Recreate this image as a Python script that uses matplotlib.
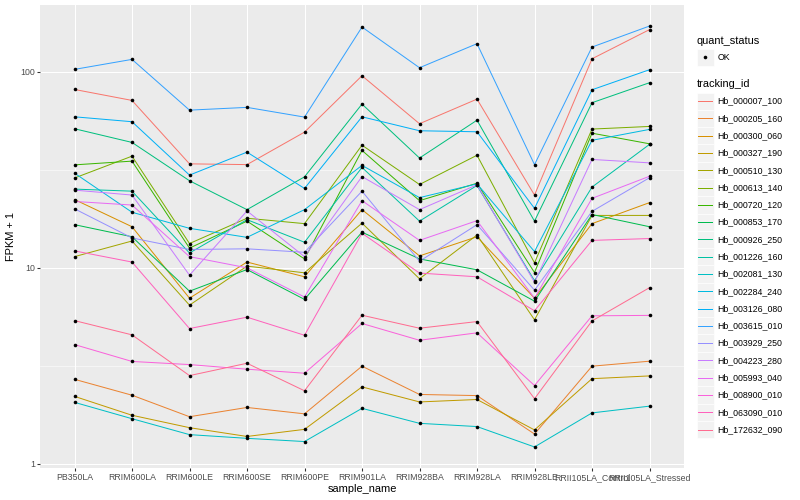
import numpy as np
import matplotlib
matplotlib.use('Agg')
import matplotlib.pyplot as plt
from matplotlib.patches import Rectangle
from matplotlib.ticker import FixedLocator, NullFormatter

plt.rcParams['font.family'] = ['Liberation Sans', 'DejaVu Sans']

samples = ['PB350LA', 'RRIM600LA', 'RRIM600LE', 'RRIM600SE', 'RRIM600PE', 'RRIM901LA',
           'RRIM928BA', 'RRIM928LA', 'RRIM928LE', 'RRII105LA_Control', 'RRII105LA_Stressed']

tracking_ids = ['Hb_000007_100', 'Hb_000205_160', 'Hb_000300_060', 'Hb_000327_190',
                'Hb_000510_130', 'Hb_000613_140', 'Hb_000720_120', 'Hb_000853_170',
                'Hb_000926_250', 'Hb_001226_160', 'Hb_002081_130', 'Hb_002284_240',
                'Hb_003126_080', 'Hb_003615_010', 'Hb_003929_250', 'Hb_004223_280',
                'Hb_005993_040', 'Hb_008900_010', 'Hb_063090_010', 'Hb_172632_090']

# FPKM + 1 per sample
hb_000007_100 = [81.2, 71.4, 33.9, 33.6, 49.2, 95.4, 54.3, 72.5, 23.5, 116.4, 164]
hb_000205_160 = [2.70, 2.24, 1.74, 1.94, 1.80, 3.15, 2.26, 2.23, 1.42, 3.15, 3.34]
hb_000300_060 = [22.3, 16.2, 7.0, 10.7, 9.0, 19.8, 11.5, 14.4, 7.0, 16.8, 21.5]
hb_000327_190 = [2.21, 1.77, 1.53, 1.38, 1.50, 2.47, 2.07, 2.13, 1.49, 2.72, 2.81]
hb_000510_130 = [11.4, 13.7, 6.45, 10.2, 9.43, 16.9, 8.79, 14.7, 5.43, 18.5, 18.5]
hb_000613_140 = [28.7, 37.1, 13.3, 17.9, 16.8, 42.2, 26.6, 37.5, 10.6, 51.0, 52.6]
hb_000720_120 = [33.5, 35.0, 12.6, 17.3, 11.1, 39.7, 22.0, 27.0, 9.46, 48.6, 42.9]
hb_000853_170 = [16.6, 14.4, 7.6, 9.8, 6.9, 15.2, 11.1, 9.77, 6.76, 18.7, 16.2]
hb_000926_250 = [51.2, 43.6, 27.8, 19.8, 29.1, 68.4, 36.3, 56.6, 17.3, 69.5, 87.9]
hb_001226_160 = [25.2, 24.6, 11.9, 17.6, 13.5, 32.5, 17.3, 26.3, 8.6, 25.8, 42.6]
hb_002081_130 = [2.06, 1.70, 1.41, 1.35, 1.30, 1.92, 1.61, 1.55, 1.22, 1.82, 1.97]
hb_002284_240 = [30.4, 19.2, 15.9, 14.3, 19.8, 33.3, 22.8, 26.8, 12.1, 44.7, 50.8]
hb_003126_080 = [58.9, 55.6, 29.7, 38.9, 25.4, 58.9, 50.0, 49.4, 20.1, 80.9, 102.4]
hb_003615_010 = [102.8, 115.6, 63.7, 65.8, 58.7, 169, 104.8, 139, 33.6, 133.6, 171]
hb_003929_250 = [20.0, 14.2, 12.4, 12.5, 12.0, 24.6, 10.8, 16.6, 7.69, 19.4, 28.8]
hb_004223_280 = [24.9, 23.5, 9.17, 19.5, 11.4, 29.2, 19.8, 26.5, 8.45, 35.7, 34.3]
hb_005993_040 = [21.8, 20.9, 11.4, 10.0, 7.1, 22.0, 13.8, 17.4, 7.0, 22.6, 29.3]
hb_008900_010 = [4.06, 3.33, 3.21, 3.04, 2.90, 5.2, 4.27, 4.66, 2.51, 5.69, 5.72]
hb_063090_010 = [12.2, 10.7, 4.90, 5.6, 4.53, 15.0, 9.4, 9.0, 6.04, 13.8, 14.1]
hb_172632_090 = [5.38, 4.55, 2.82, 3.26, 2.36, 5.73, 4.92, 5.32, 2.15, 5.36, 7.92]

series = [hb_000007_100, hb_000205_160, hb_000300_060, hb_000327_190, hb_000510_130,
          hb_000613_140, hb_000720_120, hb_000853_170, hb_000926_250, hb_001226_160,
          hb_002081_130, hb_002284_240, hb_003126_080, hb_003615_010, hb_003929_250,
          hb_004223_280, hb_005993_040, hb_008900_010, hb_063090_010, hb_172632_090]

# ggplot2 default hue palette for 20 levels
colors = ['#F8766D', '#EA8331', '#D89000', '#C09B00', '#A3A500', '#7CAE00', '#39B600',
          '#00BB4E', '#00BF7D', '#00C1A3', '#00BFC4', '#00BAE0', '#00B0F6', '#35A2FF',
          '#9590FF', '#C77CFF', '#E76BF3', '#FA62DB', '#FF62BC', '#FF6C91']

W, H = 800, 500
fig = plt.figure(figsize=(W / 72, H / 72), dpi=72)
fig.patch.set_facecolor('white')
ax = fig.add_axes([40 / W, 32 / H, 644 / W, 463 / H])
ax.set_facecolor('#EBEBEB')
for s in ax.spines.values():
    s.set_visible(False)

x = np.arange(len(samples))
for vals, col in zip(series, colors):
    ax.plot(x, vals, color=col, lw=1.0, zorder=3)
for vals in series:
    ax.plot(x, vals, 'o', color='black', ms=3.6, mew=0, zorder=4)

# log scale with ggplot-like 5% expansion
ax.set_yscale('log')
allv = np.log10(np.concatenate([np.array(v) for v in series]))
lo, hi = allv.min(), allv.max()
pad = 0.05 * (hi - lo)
ax.set_ylim(10 ** (lo - pad), 10 ** (hi + pad))
ax.set_xlim(-0.6, len(samples) - 1 + 0.6)

ax.yaxis.set_major_locator(FixedLocator([1, 10, 100]))
ax.set_yticklabels(['1', '10', '100'])
ax.yaxis.set_minor_locator(FixedLocator([10 ** 0.5, 10 ** 1.5]))
ax.yaxis.set_minor_formatter(NullFormatter())
ax.set_xticks(x)
ax.set_xticklabels(samples)

ax.grid(which='major', color='white', lw=1.07, zorder=0)
ax.grid(which='minor', axis='y', color='white', lw=0.53, zorder=0)
ax.set_axisbelow(True)
ax.tick_params(which='major', length=2.75, width=1.07, color='#333333',
               labelcolor='#4D4D4D', labelsize=8.8, pad=2.2)
ax.tick_params(which='minor', length=0)

ax.set_xlabel('sample_name', fontsize=11, labelpad=2.5)
ax.set_ylabel('FPKM + 1', fontsize=11, labelpad=4)

# legends drawn in pixel space
lax = fig.add_axes([0, 0, 1, 1])
lax.set_xlim(0, W)
lax.set_ylim(H, 0)
lax.axis('off')
lax.patch.set_alpha(0)

kx, ks = 696.5, 17.28
lax.text(kx, 40.5, 'quant_status', fontsize=11, va='center', ha='left')
lax.add_patch(Rectangle((kx, 57.3 - ks / 2), ks, ks, facecolor='#F2F2F2', edgecolor='white', lw=0.6))
lax.plot([kx + ks / 2], [57.3], 'o', color='black', ms=3.6, mew=0)
lax.text(kx + ks + 3.5, 57.3, 'OK', fontsize=8.8, va='center', ha='left')

lax.text(kx, 84, 'tracking_id', fontsize=11, va='center', ha='left')
for i, (tid, col) in enumerate(zip(tracking_ids, colors)):
    cy = 101.2 + i * ks
    lax.add_patch(Rectangle((kx, cy - ks / 2), ks, ks, facecolor='#F2F2F2', edgecolor='white', lw=0.6))
    lax.plot([kx + 1.5, kx + ks - 1.5], [cy, cy], color=col, lw=1.0)
    lax.text(kx + ks + 3.5, cy, tid, fontsize=8.8, va='center', ha='left')

fig.savefig('out.png', dpi=72)
